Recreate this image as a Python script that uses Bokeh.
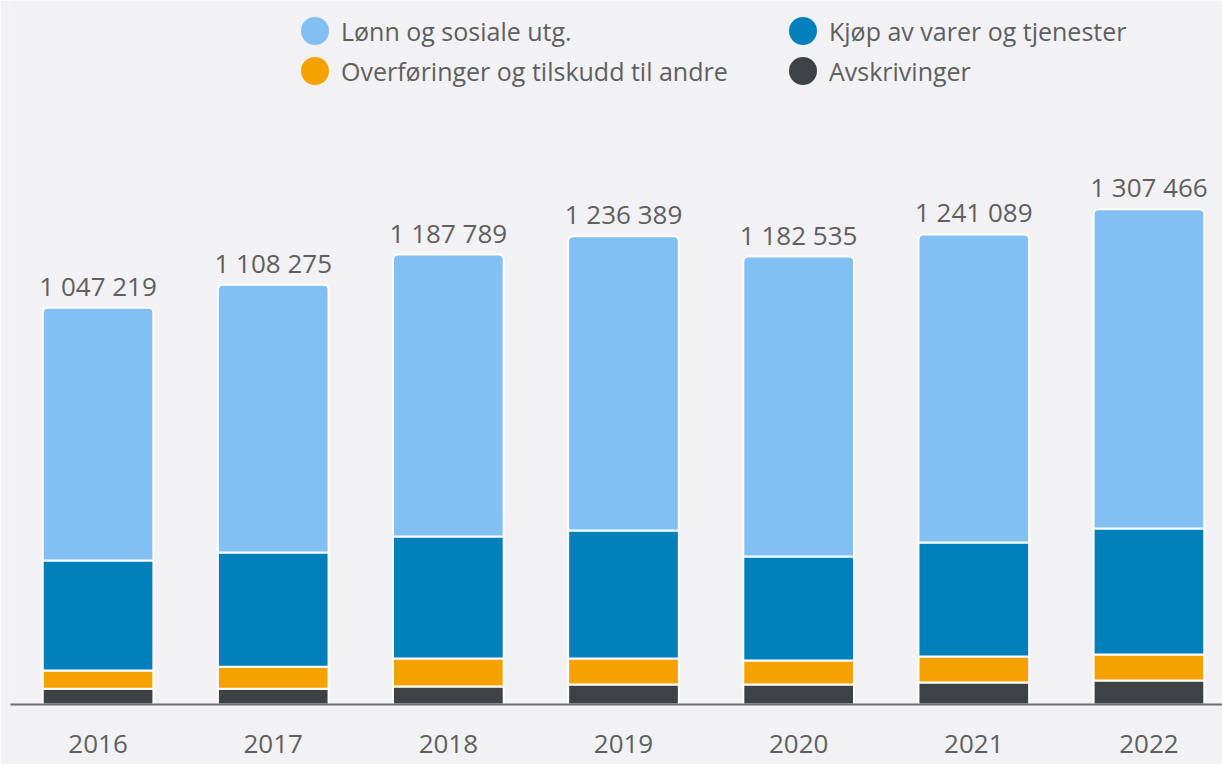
from bokeh.plotting import figure
from bokeh.models import (ColumnDataSource, Range1d, FixedTicker, LabelSet,
                          Legend, LegendItem)
from bokeh.core.properties import value
from bokeh.embed import file_html
from bokeh.resources import INLINE

years = ["2016", "2017", "2018", "2019", "2020", "2021", "2022"]
avskrivinger = [41500, 41500, 47500, 52800, 52800, 58100, 63400]
overforinger = [48300, 58100, 73900, 68600, 63400, 68600, 68600]
kjop = [290400, 301800, 322100, 337900, 274600, 301000, 332600]
lonn = [667019, 706875, 744289, 777089, 791735, 813389, 842866]

series_names = ["Lønn og sosiale utg.", "Kjøp av varer og tjenester",
                "Overføringer og tilskudd til andre", "Avskrivinger"]
colors = {"lonn": "#82BFF2", "kjop": "#0080BA", "overf": "#F5A200", "avs": "#3E4245"}

BG = "#F2F2F4"
TXT = "#5F5F5F"
FONT = "Open Sans"

x = list(range(len(years)))
b1 = avskrivinger
b2 = [a + o for a, o in zip(b1, overforinger)]
b3 = [a + k for a, k in zip(b2, kjop)]
tot = [a + l for a, l in zip(b3, lonn)]
labels = [f"{t:,}".replace(",", " ") for t in tot]

src = ColumnDataSource(dict(
    x=x, z=[0] * len(x), b1=b1, b2=b2, b3=b3, tot=tot, label=labels,
))

p = figure(width=1222, height=764, output_backend="svg", toolbar_location=None,
           x_range=Range1d(-0.5, 6.42), y_range=Range1d(0, 704 * 2640),
           min_border_left=10, min_border_right=0, min_border_top=0,
           min_border_bottom=60, background_fill_color=BG, border_fill_color=BG,
           outline_line_color=None)

W = 0.632
r_avs = p.vbar(x="x", bottom="z", top="b1", width=W, source=src,
               fill_color=colors["avs"], line_color="white", line_width=2)
r_ovf = p.vbar(x="x", bottom="b1", top="b2", width=W, source=src,
               fill_color=colors["overf"], line_color="white", line_width=2)
r_kjp = p.vbar(x="x", bottom="b2", top="b3", width=W, source=src,
               fill_color=colors["kjop"], line_color="white", line_width=2)
r_lon = p.vbar(x="x", bottom="b3", top="tot", width=W, source=src,
               fill_color=colors["lonn"], line_color="white", line_width=2,
               border_radius=(5, 5, 0, 0))

p.add_layout(LabelSet(x="x", y="tot", text="label", source=src, y_offset=12,
                      text_align="center", text_baseline="alphabetic",
                      text_font=value(FONT), text_font_size=value("26px"),
                      text_color=TXT))

# legend swatches (ellipse glyphs kept out of view, used only for the legend)
leg_src = ColumnDataSource(dict(x=[-10], y=[-10]))
def swatch(c):
    return p.ellipse(x="x", y="y", width=10, height=10, width_units="screen",
                     height_units="screen", source=leg_src, fill_color=c,
                     line_color=None)
s_lon = swatch(colors["lonn"])
s_kjp = swatch(colors["kjop"])
s_ovf = swatch(colors["overf"])
s_avs = swatch(colors["avs"])

legend = Legend(items=[
    LegendItem(label=series_names[0], renderers=[s_lon]),
    LegendItem(label=series_names[2], renderers=[s_ovf]),
    LegendItem(label=series_names[1], renderers=[s_kjp]),
    LegendItem(label=series_names[3], renderers=[s_avs]),
], ncols=2, nrows=2, location=(287, 616), glyph_width=35, glyph_height=35,
    label_standoff=9, label_width=439, spacing=5, padding=0, margin=0,
    border_line_color=None, background_fill_alpha=0,
    label_text_font=FONT, label_text_font_size="25px", label_text_color=TXT)
p.add_layout(legend, "center")

p.xaxis.ticker = FixedTicker(ticks=x)
p.xaxis.major_label_overrides = {i: y for i, y in zip(x, years)}
p.xaxis.major_label_text_font = FONT
p.xaxis.major_label_text_font_size = "26px"
p.xaxis.major_label_text_color = TXT
p.xaxis.major_label_standoff = 24
p.xaxis.major_tick_line_color = None
p.xaxis.minor_tick_line_color = None
p.xaxis.axis_line_color = "#6E6E6E"
p.xaxis.axis_line_width = 2
p.yaxis.visible = False
p.grid.visible = False

open("out.html", "w").write(file_html(p, INLINE))
